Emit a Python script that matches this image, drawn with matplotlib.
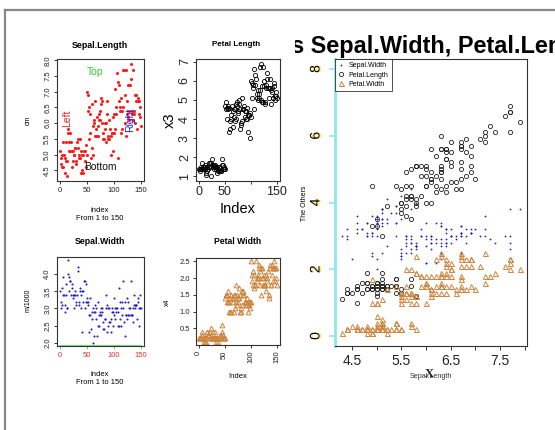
import matplotlib
matplotlib.use("Agg")
import matplotlib.pyplot as plt
import matplotlib.patheffects as pe
from matplotlib.transforms import Bbox
import numpy as np

plt.rcParams['font.family'] = ['Liberation Sans', 'DejaVu Sans']

sepal_length = [5.1,4.9,4.7,4.6,5.0,5.4,4.6,5.0,4.4,4.9,5.4,4.8,4.8,4.3,5.8,5.7,5.4,5.1,5.7,5.1,5.4,5.1,4.6,5.1,4.8,5.0,5.0,5.2,5.2,4.7,4.8,5.4,5.2,5.5,4.9,5.0,5.5,4.9,4.4,5.1,5.0,4.5,4.4,5.0,5.1,4.8,5.1,4.6,5.3,5.0,
    7.0,6.4,6.9,5.5,6.5,5.7,6.3,4.9,6.6,5.2,5.0,5.9,6.0,6.1,5.6,6.7,5.6,5.8,6.2,5.6,5.9,6.1,6.3,6.1,6.4,6.6,6.8,6.7,6.0,5.7,5.5,5.5,5.8,6.0,5.4,6.0,6.7,6.3,5.6,5.5,5.5,6.1,5.8,5.0,5.6,5.7,5.7,6.2,5.1,5.7,
    6.3,5.8,7.1,6.3,6.5,7.6,4.9,7.3,6.7,7.2,6.5,6.4,6.8,5.7,5.8,6.4,6.5,7.7,7.7,6.0,6.9,5.6,7.7,6.3,6.7,7.2,6.2,6.1,6.4,7.2,7.4,7.9,6.4,6.3,6.1,7.7,6.3,6.4,6.0,6.9,6.7,6.9,5.8,6.8,6.7,6.7,6.3,6.5,6.2,5.9]
sepal_width = [3.5,3.0,3.2,3.1,3.6,3.9,3.4,3.4,2.9,3.1,3.7,3.4,3.0,3.0,4.0,4.4,3.9,3.5,3.8,3.8,3.4,3.7,3.6,3.3,3.4,3.0,3.4,3.5,3.4,3.2,3.1,3.4,4.1,4.2,3.1,3.2,3.5,3.6,3.0,3.4,3.5,2.3,3.2,3.5,3.8,3.0,3.8,3.2,3.7,3.3,
    3.2,3.2,3.1,2.3,2.8,2.8,3.3,2.4,2.9,2.7,2.0,3.0,2.2,2.9,2.9,3.1,3.0,2.7,2.2,2.5,3.2,2.8,2.5,2.8,2.9,3.0,2.8,3.0,2.9,2.6,2.4,2.4,2.7,2.7,3.0,3.4,3.1,2.3,3.0,2.5,2.6,3.0,2.6,2.3,2.7,3.0,2.9,2.9,2.5,2.8,
    3.3,2.7,3.0,2.9,3.0,3.0,2.5,2.9,2.5,3.6,3.2,2.7,3.0,2.5,2.8,3.2,3.0,3.8,2.6,2.2,3.2,2.8,2.8,2.7,3.3,3.2,2.8,3.0,2.8,3.0,2.8,3.8,2.8,2.8,2.6,3.0,3.4,3.1,3.0,3.1,3.1,3.1,2.7,3.2,3.3,3.0,2.5,3.0,3.4,3.0]
petal_length = [1.4,1.4,1.3,1.5,1.4,1.7,1.4,1.5,1.4,1.5,1.5,1.6,1.4,1.1,1.2,1.5,1.3,1.4,1.7,1.5,1.7,1.5,1.0,1.7,1.9,1.6,1.6,1.5,1.4,1.6,1.6,1.5,1.5,1.4,1.5,1.2,1.3,1.4,1.3,1.5,1.3,1.3,1.3,1.6,1.9,1.4,1.6,1.4,1.5,1.4,
    4.7,4.5,4.9,4.0,4.6,4.5,4.7,3.3,4.6,3.9,3.5,4.2,4.0,4.7,3.6,4.4,4.5,4.1,4.5,3.9,4.8,4.0,4.9,4.7,4.3,4.4,4.8,5.0,4.5,3.5,3.8,3.7,3.9,5.1,4.5,4.5,4.7,4.4,4.1,4.0,4.4,4.6,4.0,3.3,4.2,4.2,4.2,4.3,3.0,4.1,
    6.0,5.1,5.9,5.6,5.8,6.6,4.5,6.3,5.8,6.1,5.1,5.3,5.5,5.0,5.1,5.3,5.5,6.7,6.9,5.0,5.7,4.9,6.7,4.9,5.7,6.0,4.8,4.9,5.6,5.8,6.1,6.4,5.6,5.1,5.6,6.1,5.6,5.5,4.8,5.4,5.6,5.1,5.1,5.9,5.7,5.2,5.0,5.2,5.4,5.1]
petal_width = [0.2,0.2,0.2,0.2,0.2,0.4,0.3,0.2,0.2,0.1,0.2,0.2,0.1,0.1,0.2,0.4,0.4,0.3,0.3,0.3,0.2,0.4,0.2,0.5,0.2,0.2,0.4,0.2,0.2,0.2,0.2,0.4,0.1,0.2,0.2,0.2,0.2,0.1,0.2,0.2,0.3,0.3,0.2,0.6,0.4,0.3,0.2,0.2,0.2,0.2,
    1.4,1.5,1.5,1.3,1.5,1.3,1.6,1.0,1.3,1.4,1.0,1.5,1.0,1.4,1.3,1.4,1.5,1.0,1.5,1.1,1.8,1.3,1.5,1.2,1.3,1.4,1.4,1.7,1.5,1.0,1.1,1.0,1.2,1.6,1.5,1.6,1.5,1.3,1.3,1.3,1.2,1.4,1.2,1.0,1.3,1.2,1.3,1.3,1.1,1.3,
    2.5,1.9,2.1,1.8,2.2,2.1,1.7,1.8,1.8,2.5,2.0,1.9,2.1,2.0,2.4,2.3,1.8,2.2,2.3,1.5,2.3,2.0,2.0,1.8,2.1,1.8,1.8,1.8,2.1,1.6,1.9,2.0,2.2,1.5,1.4,2.3,2.4,1.8,1.8,2.1,2.4,2.3,1.9,2.3,2.5,2.3,1.9,2.0,2.3,1.8]
index = list(range(1, 151))

W, H = 555, 430
fig = plt.figure(figsize=(W/100, H/100), dpi=100)

def px_axes(x0, y0, x1, y1):
    return fig.add_axes([x0/W, 1 - y1/H, (x1-x0)/W, (y1-y0)/H])

def ftext(x, y, s, **kw):
    return fig.text(x/W, 1 - y/H, s, **kw)

def rlim(lo, hi):
    d = (hi - lo) * 0.04
    return lo - d, hi + d

def style(ax, fs, tl=2.2, pad=2):
    for sp in ax.spines.values():
        sp.set_linewidth(0.8); sp.set_color('#333333')
    ax.tick_params(direction='out', length=tl, width=0.7, labelsize=fs, pad=pad, colors='#333333', labelcolor='#222222')

RED = '#FF1A1A'; BLUE = '#2020CC'; PERU = '#CD853F'

# frame
fig.add_artist(plt.Line2D([5/W, 5/W], [0, 1-10/H], color='#888888', lw=1.6))
fig.add_artist(plt.Line2D([5/W, 1], [1-10/H, 1-10/H], color='#888888', lw=1.6))

# Panel 1
ax1 = px_axes(57, 59, 144, 181)
ax1.plot(index, sepal_length, 'o', color=RED, ms=2.2, mew=0)
ax1.set_xlim(rlim(1, 150)); ax1.set_ylim(rlim(4.3, 7.9))
ax1.set_xticks([0, 50, 100, 150]); ax1.set_yticks(np.arange(4.5, 8.01, 0.5))
ax1.set_yticklabels([f"{v:.1f}" for v in np.arange(4.5, 8.01, 0.5)], rotation=90, va='center')
style(ax1, 5.5)
ax1.text(65, 7.63, 'Top', color='#33CC33', fontsize=7.5, ha='center', va='center')
ax1.text(75, 4.60, 'Bottom', color='#111111', fontsize=7.5, ha='center', va='center')
ax1.text(13, 6.16, 'Left', color='#DD2222', fontsize=7.5, rotation=90, ha='center', va='center')
ax1.text(131, 6.1, 'Right', color='#2222DD', fontsize=7.5, rotation=90, ha='center', va='center')
ftext(100, 45, 'Sepal.Length', fontsize=6.4, weight='bold', ha='center', va='center')
ftext(28, 120, 'cm', fontsize=5, rotation=90, ha='center', va='center')
ftext(100, 210, 'index', fontsize=5.5, ha='center', va='center')
ftext(100, 219, 'From 1 to 150', fontsize=5.5, ha='center', va='center')

# Panel 2
ax2 = px_axes(196, 59, 280, 181)
ax2.plot(index, petal_length, 'o', mfc='none', mec='black', ms=3, mew=0.6)
ax2.set_xlim(rlim(1, 150)); ax2.set_ylim(rlim(1.0, 6.9))
ax2.set_xticks([0, 50, 100, 150]); ax2.set_xticklabels(['0', '50', '', '150'])
ax2.set_yticks(range(1, 8))
ax2.set_yticklabels([str(v) for v in range(1, 8)], rotation=90, va='center')
style(ax2, 9, pad=1.5)
ftext(236, 44, 'Petal Length', fontsize=5.8, weight='bold', ha='center', va='center')
ftext(170, 120, 'x3', fontsize=10.5, rotation=90, ha='center', va='center')
ftext(238, 209, 'Index', fontsize=10.5, ha='center', va='center')

# Panel 3
ax3 = px_axes(57, 257, 144, 346)
ax3.plot(index, sepal_width, 'o', color=BLUE, ms=1.5, mew=0)
ax3.set_xlim(rlim(1, 150)); ax3.set_ylim(rlim(2.0, 4.4))
ax3.set_xticks([0, 50, 100, 150]); ax3.set_yticks(np.arange(2.0, 4.01, 0.5))
ax3.set_yticklabels([f"{v:.1f}" for v in np.arange(2.0, 4.01, 0.5)], rotation=90, va='center')
style(ax3, 5.5)
ax3.tick_params(axis='x', colors='#55DD55', labelcolor='#DD3333')
ax3.plot([0, 150], [ax3.get_ylim()[0]]*2, color='#55DD55', lw=1.2, clip_on=False)
ftext(100, 241, 'Sepal.Width', fontsize=6.3, weight='bold', ha='center', va='center')
ftext(28, 300, 'm/1000', fontsize=5, rotation=90, ha='center', va='center')
ftext(100, 374, 'index', fontsize=5.5, ha='center', va='center')
ftext(100, 383, 'From 1 to 150', fontsize=5.5, ha='center', va='center')

# Panel 4
ax4 = px_axes(196, 258, 280, 345)
ax4.plot(index, petal_width, '^', mfc='none', mec=PERU, ms=3.4, mew=0.7)
ax4.set_xlim(rlim(1, 150)); ax4.set_ylim(rlim(0.1, 2.5))
ax4.set_xticks([0, 50, 100, 150])
ax4.set_xticklabels(['0', '50', '100', '150'], rotation=90, ha='center', va='top')
ax4.set_yticks([0.5, 1.0, 1.5, 2.0, 2.5])
ax4.set_yticklabels(['0.5', '1.0', '1.5', '2.0', '2.5'])
style(ax4, 5.5)
ftext(238, 241, 'Petal Width', fontsize=6.2, weight='bold', ha='center', va='center')
ftext(167, 302, 'x4', fontsize=5, rotation=90, ha='center', va='center')
ftext(238, 376, 'Index', fontsize=5.5, ha='center', va='center')

# Right panel
ax5 = px_axes(335, 59, 527, 346)
ax5.plot(sepal_length, sepal_width, 'o', color=BLUE, ms=1.3, mew=0, label='Sepal.Width')
ax5.plot(sepal_length, petal_length, 'o', mfc='none', mec='#222222', ms=3, mew=0.6, label='Petal.Length')
ax5.plot(sepal_length, petal_width, '^', mfc='none', mec=PERU, ms=3.6, mew=0.7, label='Petal.Width')
ax5.set_xlim(rlim(4.3, 7.9)); ax5.set_ylim(-0.3, 8.3)
xt = np.arange(4.5, 8.01, 0.5)
ax5.set_xticks(xt)
ax5.set_xticklabels([f"{v:.1f}" if abs((v*2) % 2 - 1) < 1e-6 else '' for v in xt])
ax5.set_yticks([0, 2, 4, 6, 8])
style(ax5, 10, tl=3, pad=3)
ax5.set_yticklabels([str(v) for v in [0, 2, 4, 6, 8]], rotation=90, va='center')
ax5.tick_params(axis='y', colors='#8EE8E8', labelcolor='black', width=1.2, length=4, pad=5)
for lab in ax5.get_yticklabels():
    lab.set_path_effects([pe.SimplePatchShadow(offset=(1.2, 0), shadow_rgbFace='#FFE94A', alpha=1.0), pe.Normal()])
ax5.spines['left'].set_color('#8EE8E8'); ax5.spines['left'].set_linewidth(2)
leg = ax5.legend(loc='upper left', bbox_to_anchor=(0, 1), borderaxespad=0, fontsize=5,
                 frameon=True, fancybox=False, edgecolor='#222222', handlelength=0.8,
                 handletextpad=0.6, borderpad=0.5, labelspacing=0.3, markerscale=1.0)
leg.get_frame().set_linewidth(0.7)
ftext(305, 203, 'The Others', fontsize=5, rotation=90, ha='center', va='center')
ftext(431, 376, 'Sepal.Length', fontsize=5.2, ha='center', va='center', color='#333333')
ftext(429, 374, 'X', fontsize=9, ha='center', va='center', family='Liberation Serif', weight='bold', color='#222222')
t = ftext(432, 46, 'Sepal.Length vs Sepal.Width, Petal.Length, Petal.Width', fontsize=16.9,
          weight='bold', ha='center', va='center')
t.set_clip_box(Bbox.from_extents(295, 0, W, H))
t.set_clip_on(True)

fig.savefig('out.png', dpi=100)
